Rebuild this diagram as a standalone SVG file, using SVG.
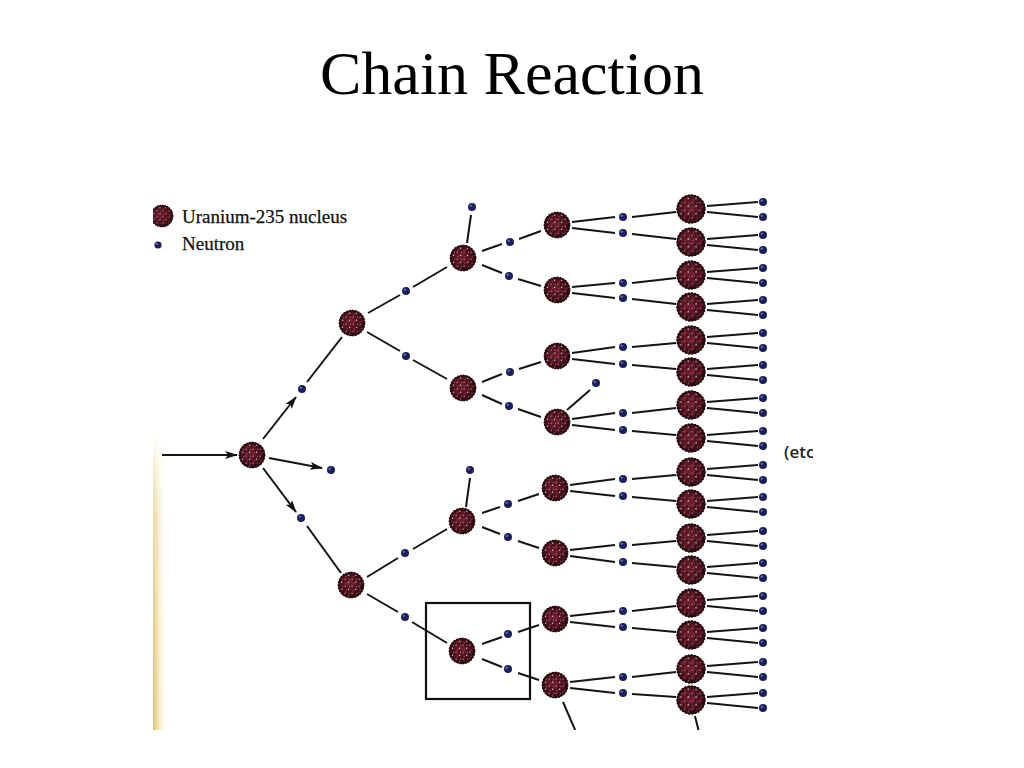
<svg xmlns="http://www.w3.org/2000/svg" width="1024" height="768" viewBox="0 0 1024 768">
<style>
.c{stroke:#141414;stroke-width:2;fill:none}
.a{stroke:#141414;stroke-width:2;fill:none;marker-end:url(#arr)}
.title{font-family:"Liberation Serif","Times New Roman",serif;font-size:62px;fill:#000}
.leg{font-family:"Liberation Serif","Times New Roman",serif;font-size:19px;fill:#111;stroke:#111;stroke-width:0.25}
.etc{font-family:"Open Sans","Liberation Sans",Arial,sans-serif;font-size:17px;font-weight:600;fill:#1e1e1e}
</style>
<defs>
<radialGradient id="ng" cx="0.45" cy="0.45" r="0.6">
<stop offset="0" stop-color="#6e2030"/><stop offset="0.7" stop-color="#3e101a"/><stop offset="1" stop-color="#22080c"/>
</radialGradient>
<pattern id="sp" patternUnits="userSpaceOnUse" width="7" height="7">
<circle cx="1.2" cy="1.2" r="1" fill="#d24a5c"/>
<circle cx="4.6" cy="4.2" r="0.8" fill="#f2dce0"/>
<circle cx="2.2" cy="5.6" r="0.8" fill="#b03444"/>
<circle cx="5.6" cy="1.6" r="0.55" fill="#8a96c8"/>
<circle cx="3.6" cy="2.6" r="0.7" fill="#1a0508"/>
</pattern>
<g id="nuc">
<circle r="13" fill="url(#ng)"/>
<circle r="11.5" fill="url(#sp)" opacity="0.8"/>
<circle r="12.4" fill="none" stroke="#22080c" stroke-width="2" stroke-dasharray="1.6 1.3"/>
</g>
<g id="neu">
<circle r="4" fill="#1c2058"/>
<circle cx="-1.2" cy="-1.2" r="1.3" fill="#5a64a0"/>
</g>
<marker id="arr" markerUnits="userSpaceOnUse" markerWidth="14" markerHeight="10" refX="12" refY="4" orient="auto">
<path d="M0,0 L13,4 L0,8 L3,4 Z" fill="#141414"/>
</marker>
<linearGradient id="strip" x1="0" y1="0" x2="1" y2="0">
<stop offset="0" stop-color="#d8c07a"/><stop offset="0.35" stop-color="#f0e2a8"/><stop offset="1" stop-color="#ffffff" stop-opacity="0"/>
</linearGradient>
<linearGradient id="fadeV" x1="0" y1="0" x2="0" y2="1">
<stop offset="0" stop-color="#fff" stop-opacity="0"/><stop offset="0.25" stop-color="#fff" stop-opacity="0.6"/><stop offset="1" stop-color="#fff" stop-opacity="1"/>
</linearGradient>
<mask id="stripMask"><rect x="150" y="430" width="20" height="302" fill="url(#fadeV)"/></mask>
<clipPath id="scan"><rect x="153" y="185" width="660" height="545"/></clipPath>
</defs>
<rect width="1024" height="768" fill="#fff"/>
<text class="title" x="512" y="94" text-anchor="middle">Chain Reaction</text>
<rect x="153" y="430" width="14" height="300" fill="url(#strip)" mask="url(#stripMask)"/>
<g id="legend" clip-path="url(#scan)">
<use href="#nuc" transform="translate(162,216) scale(0.85)"/>
<use href="#neu" transform="translate(158,245) scale(0.9)"/>
<text class="leg" x="182" y="223">Uranium-235 nucleus</text>
<text class="leg" x="182" y="250">Neutron</text>
</g>
<g id="connectors" clip-path="url(#scan)">
<line class="a" x1="162" y1="455" x2="237" y2="455"/>
<line class="a" x1="263" y1="439" x2="296" y2="397"/>
<line class="a" x1="269" y1="458" x2="322" y2="468"/>
<line class="a" x1="263" y1="468" x2="296" y2="512"/>
<line class="c" x1="307" y1="382" x2="342" y2="337"/>
<line class="c" x1="307" y1="526" x2="341" y2="573"/>
<line class="c" x1="368" y1="313" x2="400" y2="295"/><line class="c" x1="413" y1="287" x2="447" y2="267"/>
<line class="c" x1="367" y1="332" x2="400" y2="351"/><line class="c" x1="413" y1="360" x2="447" y2="379"/>
<line class="c" x1="367" y1="577" x2="398" y2="558"/><line class="c" x1="413" y1="549" x2="447" y2="529"/>
<line class="c" x1="367" y1="594" x2="398" y2="612"/><line class="c" x1="412" y1="622" x2="447" y2="643"/>
<line class="c" x1="467" y1="243" x2="471" y2="215"/>
<line class="c" x1="466" y1="507" x2="470" y2="478"/>
<line class="c" x1="482" y1="251" x2="502" y2="244"/><line class="c" x1="519" y1="239" x2="541" y2="231"/>
<line class="c" x1="482" y1="265" x2="502" y2="273"/><line class="c" x1="518" y1="279" x2="541" y2="286"/>
<line class="c" x1="482" y1="382" x2="502" y2="374"/><line class="c" x1="519" y1="369" x2="541" y2="362"/>
<line class="c" x1="482" y1="395" x2="502" y2="404"/><line class="c" x1="518" y1="409" x2="541" y2="417"/>
<line class="c" x1="482" y1="513" x2="500" y2="507"/><line class="c" x1="518" y1="501" x2="539" y2="494"/>
<line class="c" x1="482" y1="527" x2="500" y2="534"/><line class="c" x1="518" y1="541" x2="539" y2="548"/>
<line class="c" x1="482" y1="644" x2="502" y2="637"/><line class="c" x1="518" y1="632" x2="539" y2="625"/>
<line class="c" x1="482" y1="659" x2="502" y2="667"/><line class="c" x1="518" y1="673" x2="539" y2="680"/>
<line class="c" x1="567" y1="410" x2="590" y2="390"/>
<line class="c" x1="563" y1="702" x2="576" y2="732"/>
<line class="c" x1="695" y1="716" x2="699" y2="732"/>
<line class="c" x1="572" y1="222" x2="615" y2="217"/><line class="c" x1="572" y1="228" x2="615" y2="233"/>
<line class="c" x1="572" y1="287" x2="615" y2="283"/><line class="c" x1="572" y1="293" x2="615" y2="298"/>
<line class="c" x1="572" y1="353" x2="615" y2="347"/><line class="c" x1="572" y1="359" x2="615" y2="364"/>
<line class="c" x1="572" y1="419" x2="615" y2="413"/><line class="c" x1="572" y1="425" x2="615" y2="430"/>
<line class="c" x1="570" y1="485" x2="615" y2="479"/><line class="c" x1="570" y1="491" x2="615" y2="496"/>
<line class="c" x1="570" y1="550" x2="615" y2="545"/><line class="c" x1="570" y1="556" x2="615" y2="562"/>
<line class="c" x1="570" y1="616" x2="615" y2="611"/><line class="c" x1="570" y1="622" x2="615" y2="627"/>
<line class="c" x1="570" y1="682" x2="615" y2="677"/><line class="c" x1="570" y1="688" x2="615" y2="693"/>
<line class="c" x1="632" y1="217" x2="676" y2="212"/><line class="c" x1="632" y1="234" x2="676" y2="239"/>
<line class="c" x1="632" y1="283" x2="676" y2="278"/><line class="c" x1="632" y1="299" x2="676" y2="304"/>
<line class="c" x1="632" y1="347" x2="676" y2="343"/><line class="c" x1="632" y1="365" x2="676" y2="369"/>
<line class="c" x1="632" y1="413" x2="676" y2="408"/><line class="c" x1="632" y1="431" x2="676" y2="435"/>
<line class="c" x1="632" y1="479" x2="676" y2="475"/><line class="c" x1="632" y1="497" x2="676" y2="501"/>
<line class="c" x1="632" y1="545" x2="676" y2="541"/><line class="c" x1="632" y1="563" x2="676" y2="567"/>
<line class="c" x1="632" y1="611" x2="676" y2="606"/><line class="c" x1="632" y1="628" x2="676" y2="632"/>
<line class="c" x1="632" y1="677" x2="676" y2="672"/><line class="c" x1="632" y1="694" x2="676" y2="697"/>
<line class="c" x1="707" y1="206" x2="758" y2="202"/><line class="c" x1="707" y1="212" x2="758" y2="217"/>
<line class="c" x1="707" y1="239" x2="758" y2="235"/><line class="c" x1="707" y1="245" x2="758" y2="250"/>
<line class="c" x1="707" y1="272" x2="758" y2="268"/><line class="c" x1="707" y1="278" x2="758" y2="283"/>
<line class="c" x1="707" y1="304" x2="758" y2="300"/><line class="c" x1="707" y1="310" x2="758" y2="315"/>
<line class="c" x1="707" y1="337" x2="758" y2="333"/><line class="c" x1="707" y1="343" x2="758" y2="348"/>
<line class="c" x1="707" y1="369" x2="758" y2="365"/><line class="c" x1="707" y1="375" x2="758" y2="380"/>
<line class="c" x1="707" y1="402" x2="758" y2="398"/><line class="c" x1="707" y1="408" x2="758" y2="413"/>
<line class="c" x1="707" y1="435" x2="758" y2="431"/><line class="c" x1="707" y1="441" x2="758" y2="446"/>
<line class="c" x1="707" y1="469" x2="758" y2="465"/><line class="c" x1="707" y1="475" x2="758" y2="480"/>
<line class="c" x1="707" y1="501" x2="758" y2="497"/><line class="c" x1="707" y1="507" x2="758" y2="512"/>
<line class="c" x1="707" y1="535" x2="758" y2="531"/><line class="c" x1="707" y1="541" x2="758" y2="546"/>
<line class="c" x1="707" y1="567" x2="758" y2="563"/><line class="c" x1="707" y1="573" x2="758" y2="578"/>
<line class="c" x1="707" y1="600" x2="758" y2="596"/><line class="c" x1="707" y1="606" x2="758" y2="611"/>
<line class="c" x1="707" y1="632" x2="758" y2="628"/><line class="c" x1="707" y1="638" x2="758" y2="643"/>
<line class="c" x1="707" y1="666" x2="758" y2="662"/><line class="c" x1="707" y1="672" x2="758" y2="677"/>
<line class="c" x1="707" y1="697" x2="758" y2="693"/><line class="c" x1="707" y1="703" x2="758" y2="708"/>
</g>
<rect id="highlight-box" x="426" y="603" width="104" height="96" fill="none" stroke="#111" stroke-width="2.2"/>
<g id="n0"><use href="#nuc" x="252" y="455"/></g>
<g id="n1a"><use href="#nuc" x="352" y="323"/></g>
<g id="n1b"><use href="#nuc" x="351" y="585"/></g>
<g id="n2a"><use href="#nuc" x="463" y="258"/></g>
<g id="n2b"><use href="#nuc" x="463" y="388"/></g>
<g id="n2c"><use href="#nuc" x="462" y="521"/></g>
<g id="n2d"><use href="#nuc" x="462" y="651"/></g>
<g id="n3a"><use href="#nuc" x="557" y="225"/></g>
<g id="n3b"><use href="#nuc" x="557" y="290"/></g>
<g id="n3c"><use href="#nuc" x="557" y="356"/></g>
<g id="n3d"><use href="#nuc" x="557" y="422"/></g>
<g id="n3e"><use href="#nuc" x="555" y="488"/></g>
<g id="n3f"><use href="#nuc" x="555" y="553"/></g>
<g id="n3g"><use href="#nuc" x="555" y="619"/></g>
<g id="n3h"><use href="#nuc" x="555" y="685"/></g>
<g id="n4-1"><use href="#nuc" transform="translate(691,209) scale(1.1)"/></g>
<g id="n4-2"><use href="#nuc" transform="translate(691,242) scale(1.1)"/></g>
<g id="n4-3"><use href="#nuc" transform="translate(691,275) scale(1.1)"/></g>
<g id="n4-4"><use href="#nuc" transform="translate(691,307) scale(1.1)"/></g>
<g id="n4-5"><use href="#nuc" transform="translate(691,340) scale(1.1)"/></g>
<g id="n4-6"><use href="#nuc" transform="translate(691,372) scale(1.1)"/></g>
<g id="n4-7"><use href="#nuc" transform="translate(691,405) scale(1.1)"/></g>
<g id="n4-8"><use href="#nuc" transform="translate(691,438) scale(1.1)"/></g>
<g id="n4-9"><use href="#nuc" transform="translate(691,472) scale(1.1)"/></g>
<g id="n4-10"><use href="#nuc" transform="translate(691,504) scale(1.1)"/></g>
<g id="n4-11"><use href="#nuc" transform="translate(691,538) scale(1.1)"/></g>
<g id="n4-12"><use href="#nuc" transform="translate(691,570) scale(1.1)"/></g>
<g id="n4-13"><use href="#nuc" transform="translate(691,603) scale(1.1)"/></g>
<g id="n4-14"><use href="#nuc" transform="translate(691,635) scale(1.1)"/></g>
<g id="n4-15"><use href="#nuc" transform="translate(691,669) scale(1.1)"/></g>
<g id="n4-16"><use href="#nuc" transform="translate(691,700) scale(1.1)"/></g>
<g id="neutrons">
<g id="m0a"><use href="#neu" x="302" y="389"/></g>
<g id="m0b"><use href="#neu" x="331" y="470"/></g>
<g id="m0c"><use href="#neu" x="301" y="518"/></g>
<g id="m1a"><use href="#neu" x="406" y="291"/></g>
<g id="m1b"><use href="#neu" x="406" y="356"/></g>
<g id="m1c"><use href="#neu" x="405" y="553"/></g>
<g id="m1d"><use href="#neu" x="405" y="617"/></g>
<g id="m2x1"><use href="#neu" x="472" y="207"/></g>
<g id="m2x2"><use href="#neu" x="470" y="470"/></g>
<g id="m2x3"><use href="#neu" x="596" y="383"/></g>
<g id="m2a"><use href="#neu" x="510" y="242"/></g>
<g id="m2b"><use href="#neu" x="509" y="276"/></g>
<g id="m2c"><use href="#neu" x="510" y="372"/></g>
<g id="m2d"><use href="#neu" x="509" y="406"/></g>
<g id="m2e"><use href="#neu" x="508" y="504"/></g>
<g id="m2f"><use href="#neu" x="508" y="537"/></g>
<g id="m2g"><use href="#neu" x="508" y="634"/></g>
<g id="m2h"><use href="#neu" x="508" y="669"/></g>
<g id="m3-1"><use href="#neu" x="623" y="217"/></g>
<g id="m3-2"><use href="#neu" x="623" y="233"/></g>
<g id="m3-3"><use href="#neu" x="623" y="283"/></g>
<g id="m3-4"><use href="#neu" x="623" y="298"/></g>
<g id="m3-5"><use href="#neu" x="623" y="347"/></g>
<g id="m3-6"><use href="#neu" x="623" y="364"/></g>
<g id="m3-7"><use href="#neu" x="623" y="413"/></g>
<g id="m3-8"><use href="#neu" x="623" y="430"/></g>
<g id="m3-9"><use href="#neu" x="623" y="479"/></g>
<g id="m3-10"><use href="#neu" x="623" y="496"/></g>
<g id="m3-11"><use href="#neu" x="623" y="545"/></g>
<g id="m3-12"><use href="#neu" x="623" y="562"/></g>
<g id="m3-13"><use href="#neu" x="623" y="611"/></g>
<g id="m3-14"><use href="#neu" x="623" y="627"/></g>
<g id="m3-15"><use href="#neu" x="623" y="677"/></g>
<g id="m3-16"><use href="#neu" x="623" y="693"/></g>
<g id="m4-1"><use href="#neu" x="763" y="202"/></g>
<g id="m4-2"><use href="#neu" x="763" y="217"/></g>
<g id="m4-3"><use href="#neu" x="763" y="235"/></g>
<g id="m4-4"><use href="#neu" x="763" y="250"/></g>
<g id="m4-5"><use href="#neu" x="763" y="268"/></g>
<g id="m4-6"><use href="#neu" x="763" y="283"/></g>
<g id="m4-7"><use href="#neu" x="763" y="300"/></g>
<g id="m4-8"><use href="#neu" x="763" y="315"/></g>
<g id="m4-9"><use href="#neu" x="763" y="333"/></g>
<g id="m4-10"><use href="#neu" x="763" y="348"/></g>
<g id="m4-11"><use href="#neu" x="763" y="365"/></g>
<g id="m4-12"><use href="#neu" x="763" y="380"/></g>
<g id="m4-13"><use href="#neu" x="763" y="398"/></g>
<g id="m4-14"><use href="#neu" x="763" y="413"/></g>
<g id="m4-15"><use href="#neu" x="763" y="431"/></g>
<g id="m4-16"><use href="#neu" x="763" y="446"/></g>
<g id="m4-17"><use href="#neu" x="763" y="465"/></g>
<g id="m4-18"><use href="#neu" x="763" y="480"/></g>
<g id="m4-19"><use href="#neu" x="763" y="497"/></g>
<g id="m4-20"><use href="#neu" x="763" y="512"/></g>
<g id="m4-21"><use href="#neu" x="763" y="531"/></g>
<g id="m4-22"><use href="#neu" x="763" y="546"/></g>
<g id="m4-23"><use href="#neu" x="763" y="563"/></g>
<g id="m4-24"><use href="#neu" x="763" y="578"/></g>
<g id="m4-25"><use href="#neu" x="763" y="596"/></g>
<g id="m4-26"><use href="#neu" x="763" y="611"/></g>
<g id="m4-27"><use href="#neu" x="763" y="628"/></g>
<g id="m4-28"><use href="#neu" x="763" y="643"/></g>
<g id="m4-29"><use href="#neu" x="763" y="662"/></g>
<g id="m4-30"><use href="#neu" x="763" y="677"/></g>
<g id="m4-31"><use href="#neu" x="763" y="693"/></g>
<g id="m4-32"><use href="#neu" x="763" y="708"/></g>
</g>
<g id="etc-label" clip-path="url(#scan)">
<text class="etc" x="784" y="458">(etc</text>
</g>
</svg>
